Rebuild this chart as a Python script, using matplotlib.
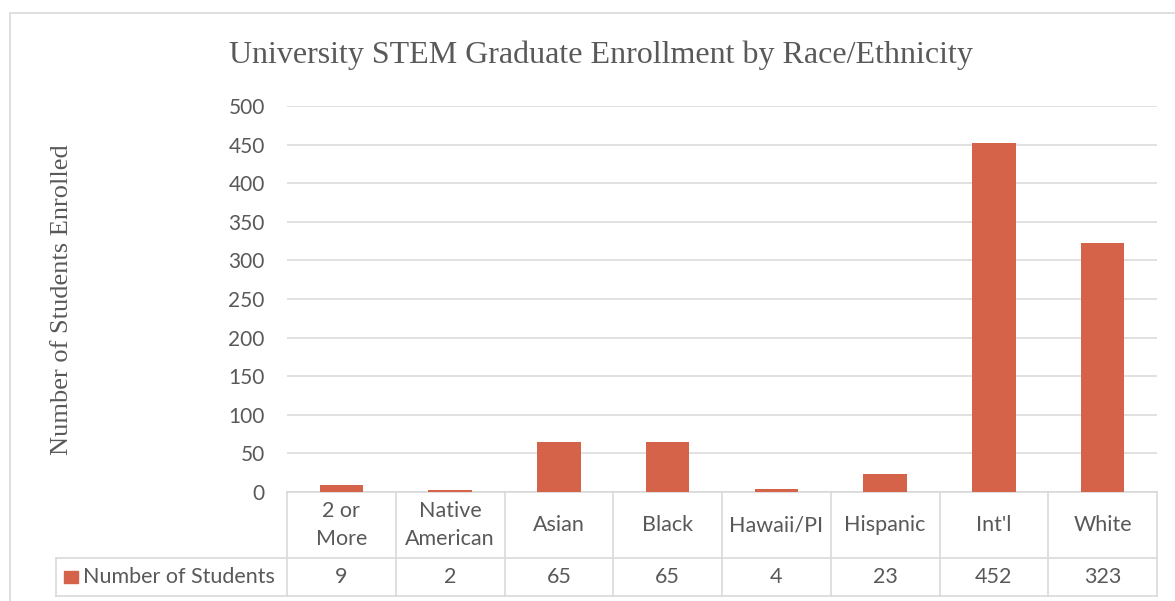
import matplotlib
matplotlib.use("Agg")
import matplotlib.pyplot as plt
from matplotlib.patches import Rectangle
from matplotlib.lines import Line2D
from matplotlib.transforms import blended_transform_factory

categories = ["2 or\nMore", "Native\nAmerican", "Asian", "Black", "Hawaii/PI",
              "Hispanic", "Int'l", "White"]
students = [9, 2, 65, 65, 4, 23, 452, 323]
series_name = "Number of Students"
yticks = [0, 50, 100, 150, 200, 250, 300, 350, 400, 450, 500]

W, H = 1175, 601
BAR = "#d4634a"
GRID = "#d9d9d9"
TXT = "#595959"
SANS = "Lato"
SERIF = "Liberation Serif"


def fx(x):
    return x / W


def fy(y):
    return 1 - y / H


fig = plt.figure(figsize=(W / 100, H / 100), dpi=100)

# outer chart border
fig.patches.append(Rectangle((fx(10), fy(700)), 2, fy(13) - fy(700),
                             transform=fig.transFigure, fill=False,
                             edgecolor=GRID, linewidth=1.2))

ax = fig.add_axes([fx(287), fy(492), fx(1157) - fx(287), fy(106) - fy(492)])
x = list(range(len(categories)))
ax.bar(x, students, width=0.4, color=BAR, zorder=3)
ax.set_xlim(-0.5, len(categories) - 0.5)
ax.set_ylim(0, 500)
ax.set_yticks(yticks)
ax.set_yticklabels([str(t) for t in yticks], fontsize=15, color=TXT, fontfamily=SANS)
ax.tick_params(axis="y", length=0, pad=16)
ax.set_xticks([])
ax.grid(axis="y", color=GRID, linewidth=1.1, zorder=0)
for s in ["top", "right", "left"]:
    ax.spines[s].set_visible(False)
ax.spines["bottom"].set_color(GRID)
ax.spines["bottom"].set_linewidth(1.2)

fig.text(fx(601), fy(55), "University STEM Graduate Enrollment by Race/Ethnicity",
         ha="center", va="center", fontsize=23, color=TXT, fontfamily=SERIF)
fig.text(fx(62), fy(300), "Number of Students Enrolled", rotation=90,
         ha="center", va="center", fontsize=19, color=TXT, fontfamily=SERIF)

# data table below the axis
tr = blended_transform_factory(ax.transData, fig.transFigure)
y_top, y_mid, y_bot = 492, 558, 596
for i in range(len(categories) + 1):
    xe = i - 0.5
    fig.add_artist(Line2D([xe, xe], [fy(y_top), fy(y_bot)], transform=tr,
                          color=GRID, linewidth=1.2))
for yy in [y_mid, y_bot]:
    fig.add_artist(Line2D([fx(56), fx(1157)], [fy(yy), fy(yy)],
                          transform=fig.transFigure, color=GRID, linewidth=1.2))
fig.add_artist(Line2D([fx(56), fx(56)], [fy(y_mid), fy(y_bot)],
                      transform=fig.transFigure, color=GRID, linewidth=1.2))

for i, (cat, val) in enumerate(zip(categories, students)):
    fig.text(i, fy(525), cat, transform=tr, ha="center", va="center",
             fontsize=15.5, color=TXT, fontfamily=SANS, linespacing=1.45)
    fig.text(i, fy(577), str(val), transform=tr, ha="center",
             va="center", fontsize=15.5, color=TXT, fontfamily=SANS)

fig.patches.append(Rectangle((fx(64), fy(583)), fx(78) - fx(64), fy(571) - fy(583),
                             transform=fig.transFigure, color=BAR))
fig.text(fx(83), fy(577), series_name, ha="left", va="center",
         fontsize=15.5, color=TXT, fontfamily=SANS)

fig.savefig("out.png", dpi=100, facecolor="white")
